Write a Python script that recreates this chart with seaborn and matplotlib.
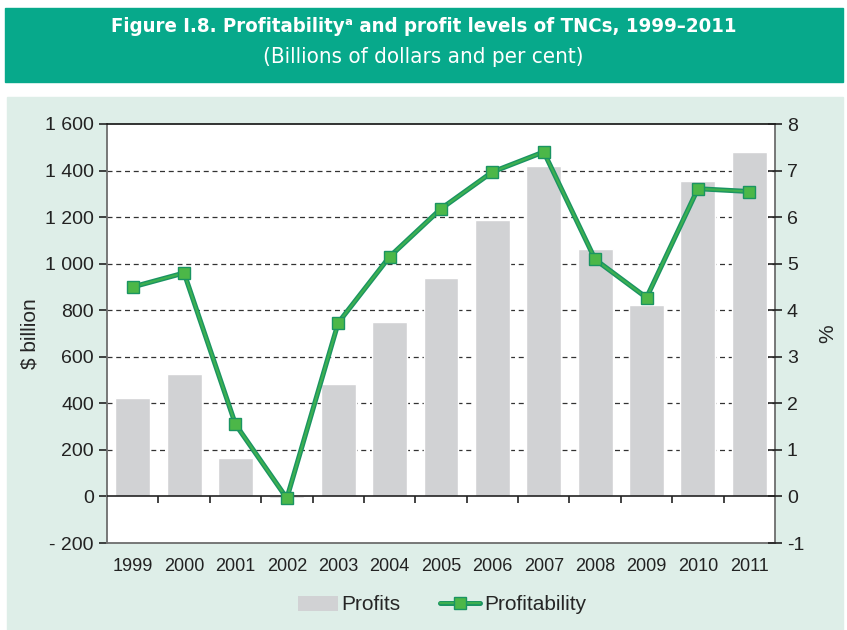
import numpy as np
import pandas as pd
import matplotlib
matplotlib.use("Agg")
import matplotlib.pyplot as plt
from matplotlib.patches import Rectangle, Patch
from matplotlib.lines import Line2D
import seaborn as sns

# data
years = ["1999", "2000", "2001", "2002", "2003", "2004", "2005",
         "2006", "2007", "2008", "2009", "2010", "2011"]
profits = [425, 524, 167, -5, 481, 751, 940, 1189, 1421, 1064, 824, 1356, 1481]
profitability = [4.50, 4.80, 1.55, -0.04, 3.73, 5.15, 6.18, 6.97, 7.40, 5.09, 4.27, 6.61, 6.55]
left_ticks = [-200, 0, 200, 400, 600, 800, 1000, 1200, 1400, 1600]
left_labels = ["- 200", "0", "200", "400", "600", "800", "1 000", "1 200", "1 400", "1 600"]
right_ticks = [-1, 0, 1, 2, 3, 4, 5, 6, 7, 8]

df = pd.DataFrame({"year": years, "profits": profits, "profitability": profitability})

sns.set_style("white")
plt.rcParams["font.family"] = ["Liberation Sans", "DejaVu Sans"]

banner = "#07a98b"
panel = "#deeee8"
bar_col = "#d1d2d4"
line_col = "#3db050"
edge_col = "#1a9462"
mark_col = "#4cb748"

fig = plt.figure(figsize=(8.47, 6.30), dpi=100)
fig.patch.set_facecolor("white")
fig.patches.append(Rectangle((5 / 847, 1 - 82 / 630), 838 / 847, 74 / 630,
                             transform=fig.transFigure, color=banner, zorder=-10))
fig.patches.append(Rectangle((7 / 847, 0), 836 / 847, 1 - 97 / 630,
                             transform=fig.transFigure, color=panel, zorder=-10))

fig.text(0.5, 1 - 26 / 630, "Figure I.8. Profitability\u1d43 and profit levels of TNCs, 1999\u20132011",
         ha="center", va="center", color="white", fontsize=14.6, fontweight="bold",
         family=["DejaVu Sans", "Liberation Sans"], fontstretch="condensed")
fig.text(0.5, 1 - 57 / 630, "(Billions of dollars and per cent)",
         ha="center", va="center", color="white", fontsize=16,
         family=["DejaVu Sans", "Liberation Sans"], fontstretch="condensed")

ax = fig.add_axes([107 / 847, 87 / 630, 668 / 847, 419 / 630])
ax.set_facecolor("white")
sns.barplot(data=df, x="year", y="profits", color=bar_col, width=0.68,
            saturation=1, ax=ax, zorder=2)
ax.set_xlim(-0.5, len(years) - 0.5)
ax.set_ylim(-200, 1600)
ax.set_yticks(left_ticks)
ax.set_yticklabels(left_labels)
for t in left_ticks:
    if 0 < t < 1600:
        ax.axhline(t, color="#333333", lw=0.9, ls=(0, (4, 3)), zorder=1)
ax.axhline(0, color="#222222", lw=1.2, zorder=3)
ax.set_xlabel("")
ax.set_ylabel("$ billion", fontsize=15, labelpad=4)
ax.tick_params(axis="x", length=0, labelsize=13, pad=11, colors="#222222")
ax.tick_params(axis="y", direction="out", length=6, width=1.2, labelsize=14,
               colors="#222222", left=True)
ax.spines["top"].set_color("#111111")
ax.spines["top"].set_linewidth(1.2)
for s in ["left", "bottom", "right"]:
    ax.spines[s].set_color("#6d6d6d")
    ax.spines[s].set_linewidth(1.3)

# category boundary ticks on the zero line
sec = ax.secondary_xaxis(200 / 1800)
sec.set_xticks(np.arange(len(years) - 1) + 0.5)
sec.set_xticklabels([])
sec.tick_params(direction="out", length=5, width=1.2, colors="#222222")
sec.spines["bottom"].set_visible(False)

ax2 = ax.twinx()
# outline of the line, then the lighter line with square markers
sns.pointplot(data=df, x="year", y="profitability", color=edge_col, ax=ax2,
              markers="", linewidth=3.6)
sns.pointplot(data=df, x="year", y="profitability", color=line_col, ax=ax2,
              marker="s", markersize=8.5, markerfacecolor=mark_col,
              markeredgecolor=edge_col, markeredgewidth=1.0, linewidth=1.6)
ax2.set_xlim(-0.5, len(years) - 0.5)
ax2.set_ylim(-1, 8)
ax2.set_yticks(right_ticks)
ax2.set_yticklabels([str(t) for t in right_ticks])
ax2.set_xlabel("")
ax2.set_ylabel("%", fontsize=15, labelpad=10)
ax2.tick_params(axis="y", direction="inout", length=10, width=1.2, labelsize=14,
                colors="#222222", right=True)
for s in ax2.spines.values():
    s.set_visible(False)

line_handle = (Line2D([0], [0], color=edge_col, lw=3.6),
               Line2D([0], [0], color=line_col, lw=1.6, marker="s", markersize=8,
                      markerfacecolor=mark_col, markeredgecolor=edge_col, markeredgewidth=1.0))
handles = [Patch(facecolor=bar_col, edgecolor="none"), line_handle]
fig.legend(handles, ["Profits", "Profitability"], loc="center", ncol=2,
           bbox_to_anchor=(0.522, 1 - 605 / 630), frameon=False, fontsize=15,
           handlelength=1.9, handletextpad=0.2, columnspacing=1.9)

fig.savefig("out.png", dpi=100, facecolor=fig.get_facecolor())
